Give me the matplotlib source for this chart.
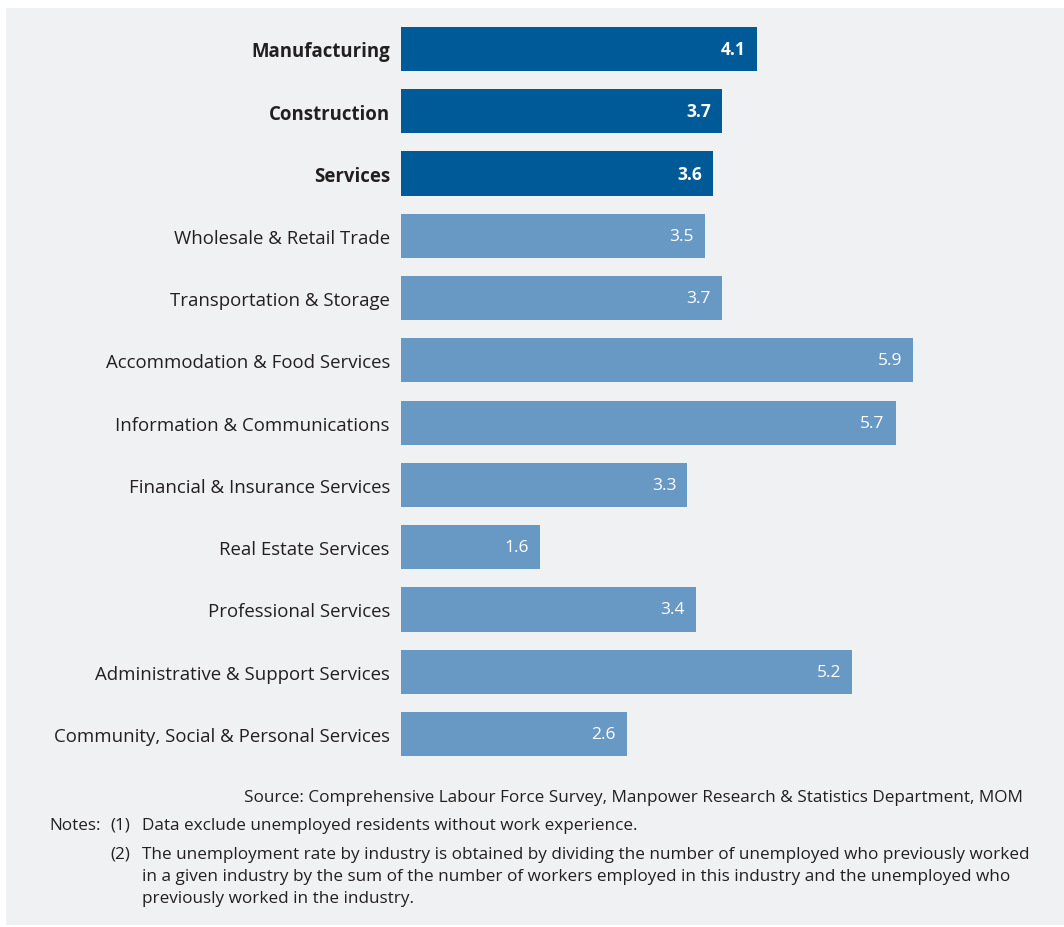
import matplotlib
matplotlib.use("Agg")
import matplotlib.pyplot as plt
from matplotlib.patches import Rectangle

plt.rcParams["font.family"] = ["Open Sans", "DejaVu Sans"]

BG = "#f0f1f3"
DARK = "#005a98"
LIGHT = "#6899c4"
TEXT = "#231f20"

industries = [
    "Manufacturing",
    "Construction",
    "Services",
    "Wholesale & Retail Trade",
    "Transportation & Storage",
    "Accommodation & Food Services",
    "Information & Communications",
    "Financial & Insurance Services",
    "Real Estate Services",
    "Professional Services",
    "Administrative & Support Services",
    "Community, Social & Personal Services",
]
rates = [4.1, 3.7, 3.6, 3.5, 3.7, 5.9, 5.7, 3.3, 1.6, 3.4, 5.2, 2.6]
is_main = [True, True, True] + [False] * 9

W, H = 1064, 928
fig = plt.figure(figsize=(W / 100, H / 100), dpi=100, facecolor="white")

# grey panel behind everything
fig.patches.append(Rectangle((6 / W, 2 / H), 1 - 6 / W, 1 - 11 / H,
                             transform=fig.transFigure, facecolor=BG,
                             edgecolor="none", zorder=-10))

px_per_unit = 86.8
xmax = 7.0
ax = fig.add_axes([401 / W, 1 - 766.2 / H, xmax * px_per_unit / W, 747.4 / H])
ax.set_facecolor("none")
ax.set_zorder(1)

y = list(range(len(industries)))
colors = [DARK if m else LIGHT for m in is_main]
ax.barh(y, rates, height=0.71, color=colors, edgecolor="none")
ax.set_xlim(0, xmax)
ax.set_ylim(len(industries) - 0.5, -0.5)

ax.set_yticks(y)
ax.set_yticklabels(industries, fontsize=13.4, color=TEXT)
for lab, m in zip(ax.get_yticklabels(), is_main):
    if m:
        lab.set_fontweight("bold")
ax.tick_params(axis="y", length=0, pad=8)
ax.set_xticks([])
for s in ax.spines.values():
    s.set_visible(False)

for yi, v, m in zip(y, rates, is_main):
    ax.annotate(f"{v:.1f}", (v, yi), xytext=(-8, 0), textcoords="offset points",
                ha="right", va="center", color="white", fontsize=12.5,
                fontweight="bold" if m else "normal")

# footer
fs = 12.3
fig.text(1023 / W, 1 - 798 / H, "Source: Comprehensive Labour Force Survey, Manpower Research & Statistics Department, MOM",
         ha="right", va="center", fontsize=fs, color=TEXT)
fig.text(49 / W, 1 - 826 / H, "Notes:", ha="left", va="center", fontsize=fs, color=TEXT)
fig.text(110 / W, 1 - 826 / H, "(1)", ha="left", va="center", fontsize=fs, color=TEXT)
fig.text(142 / W, 1 - 826 / H, "Data exclude unemployed residents without work experience.",
         ha="left", va="center", fontsize=fs, color=TEXT)
fig.text(110 / W, 1 - 855 / H, "(2)", ha="left", va="center", fontsize=fs, color=TEXT)
note2 = [
    "The unemployment rate by industry is obtained by dividing the number of unemployed who previously worked",
    "in a given industry by the sum of the number of workers employed in this industry and the unemployed who",
    "previously worked in the industry.",
]
for i, line in enumerate(note2):
    fig.text(142 / W, 1 - (855 + 22 * i) / H, line, ha="left", va="center",
             fontsize=fs, color=TEXT)

fig.savefig("out.png", dpi=100, facecolor="white")
